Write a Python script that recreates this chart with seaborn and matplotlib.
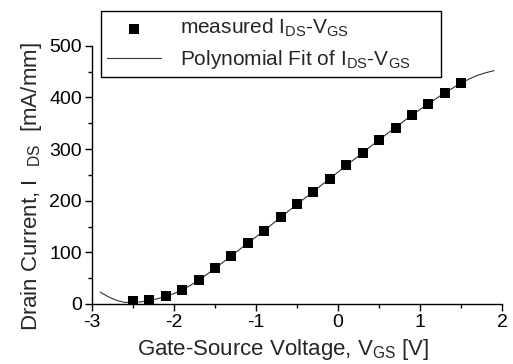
import numpy as np
import pandas as pd
import matplotlib
matplotlib.use("Agg")
import matplotlib.pyplot as plt
from matplotlib.ticker import MultipleLocator
import seaborn as sns

# measured I_DS-V_GS points
vgs_meas = [-2.5, -2.3, -2.1, -1.9, -1.7, -1.5, -1.3, -1.1, -0.9, -0.7, -0.5,
            -0.3, -0.1, 0.1, 0.3, 0.5, 0.7, 0.9, 1.1, 1.3, 1.5]
ids_meas = [5, 8, 15, 27, 46, 70, 93, 118, 141, 169, 194,
            217, 242, 269, 293, 318, 341, 366, 388, 409, 428]

# polynomial fit curve
vgs_fit = [-2.9, -2.8, -2.7, -2.6, -2.5, -2.4, -2.3, -2.2, -2.1, -2.0, -1.9, -1.8,
           -1.7, -1.6, -1.5, -1.4, -1.3, -1.1, -0.9, -0.7, -0.5, -0.3, -0.1,
           0.1, 0.3, 0.5, 0.7, 0.9, 1.1, 1.3, 1.5, 1.6, 1.7, 1.8, 1.9]
ids_fit = [23, 14, 7, 3, 3, 4, 7, 10, 15, 20, 27, 36,
           46, 57, 69, 81, 93, 118, 142, 168, 193, 218, 243,
           268, 293, 318, 342, 366, 388, 409, 428, 436, 443, 448, 452]

sns.set_style("ticks")
plt.rcParams['font.family'] = ['Liberation Sans', 'DejaVu Sans']
plt.rcParams['mathtext.default'] = 'regular'
plt.rcParams['axes.unicode_minus'] = False

meas_df = pd.DataFrame({'vgs': vgs_meas, 'ids': ids_meas})
fit_df = pd.DataFrame({'vgs': vgs_fit, 'ids': ids_fit})

fig = plt.figure(figsize=(5.13, 3.64), dpi=100)
ax = fig.add_axes([0.179, 0.165, 0.800, 0.709])

sns.lineplot(data=fit_df, x='vgs', y='ids', ax=ax, color='#333333', linewidth=0.8,
             label='Polynomial Fit of I$_{DS}$-V$_{GS}$', zorder=2)
sns.scatterplot(data=meas_df, x='vgs', y='ids', ax=ax, marker='s', s=50, color='black',
                edgecolor='black', linewidth=0, label='measured I$_{DS}$-V$_{GS}$', zorder=3)

ax.set_xlim(-3, 2)
ax.set_ylim(0, 500)
ax.xaxis.set_major_locator(MultipleLocator(1))
ax.xaxis.set_minor_locator(MultipleLocator(0.5))
ax.yaxis.set_major_locator(MultipleLocator(100))
ax.yaxis.set_minor_locator(MultipleLocator(50))
ax.tick_params(axis='both', which='major', direction='out', length=5, width=1,
               labelsize=14, color='black', labelcolor='black', pad=2)
ax.tick_params(axis='both', which='minor', direction='out', length=3, width=1, color='black')
for side in ['top', 'right']:
    ax.spines[side].set_visible(False)
for side in ['left', 'bottom']:
    ax.spines[side].set_color('black')
    ax.spines[side].set_linewidth(1.0)

ax.set_xlabel('Gate-Source Voltage, V$_{GS}$ [V]', fontsize=16)
ax.set_ylabel('Drain Current, I  $_{DS}$  [mA/mm]', fontsize=16)
ax.xaxis.set_label_coords(0.465, -0.128)
ax.yaxis.set_label_coords(-0.117, 0.453)

handles, labels = ax.get_legend_handles_labels()
handles = handles[::-1]
labels = labels[::-1]
ax.legend(handles, labels, loc='upper left', bbox_to_anchor=(0.197, 0.794, 0.663, 0.176),
          bbox_transform=fig.transFigure, mode='expand', fontsize=15, frameon=True,
          fancybox=False, edgecolor='black', framealpha=1, handlelength=2.6,
          handletextpad=0.9, borderpad=0.3, labelspacing=0.4, borderaxespad=0)
ax.get_legend().get_frame().set_linewidth(1.0)

fig.savefig('out.png', dpi=100)
